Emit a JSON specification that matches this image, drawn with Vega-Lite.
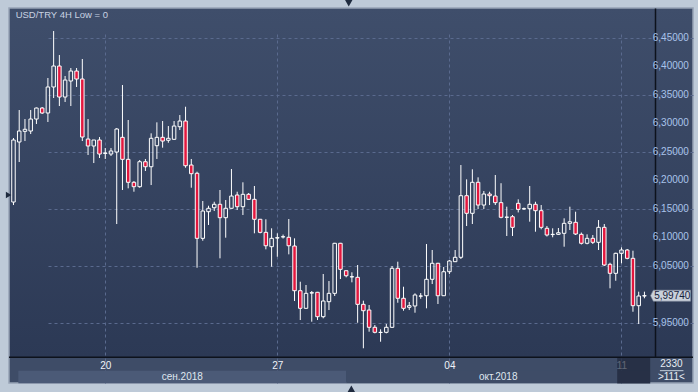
{
"$schema": "https://vega.github.io/schema/vega-lite/v6.json",
"width": 684,
"height": 375,
"autosize": {"type": "none"},
"padding": {"left": 9, "top": 8, "right": 5, "bottom": 9},
"background": "#becad8",
"config": {
  "locale": {"number": {"decimal": ",", "thousands": " ", "grouping": [3], "currency": ["", ""]}},
  "view": {
    "fill": {"gradient": "linear", "x1": 0, "y1": 0, "x2": 0, "y2": 1,
      "stops": [
        {"offset": 0, "color": "#3f4e6b"},
        {"offset": 0.9307, "color": "#2c3955"},
        {"offset": 0.9308, "color": "#3e4c67"},
        {"offset": 1, "color": "#3e4c67"}
      ]},
    "stroke": "#97a3b5",
    "strokeWidth": 1.5
  },
  "font": "Liberation Sans, Arial, sans-serif",
  "text": {"font": "Liberation Sans, Arial, sans-serif", "fontSize": 10},
  "axis": {"gridColor": "#5a6a8e", "gridDash": [3, 3], "gridWidth": 1, "labelFont": "Liberation Sans, Arial, sans-serif", "labelFontSize": 10, "ticks": false, "tickSize": 0}
},
"datasets": {
  "candles": [
    {"k":0,"open":6.1617,"high":6.2740,"low":6.1564,"close":6.2705},
    {"k":1,"open":6.2670,"high":6.3231,"low":6.2319,"close":6.2863},
    {"k":2,"open":6.2857,"high":6.3073,"low":6.2687,"close":6.2893},
    {"k":3,"open":6.2863,"high":6.3231,"low":6.2810,"close":6.3073},
    {"k":4,"open":6.3073,"high":6.3275,"low":6.2986,"close":6.3266},
    {"k":5,"open":6.3266,"high":6.3284,"low":6.3161,"close":6.3179},
    {"k":6,"open":6.3179,"high":6.3793,"low":6.3021,"close":6.3635},
    {"k":7,"open":6.3635,"high":6.4617,"low":6.3442,"close":6.4003},
    {"k":8,"open":6.4003,"high":6.4196,"low":6.3301,"close":6.3459},
    {"k":9,"open":6.3459,"high":6.3828,"low":6.3372,"close":6.3757},
    {"k":10,"open":6.3740,"high":6.3968,"low":6.3301,"close":6.3915},
    {"k":11,"open":6.3915,"high":6.3968,"low":6.3635,"close":6.3775},
    {"k":12,"open":6.3775,"high":6.4126,"low":6.2687,"close":6.2757},
    {"k":13,"open":6.2722,"high":6.3073,"low":6.2442,"close":6.2600},
    {"k":14,"open":6.2600,"high":6.2705,"low":6.2301,"close":6.2705},
    {"k":15,"open":6.2705,"high":6.2757,"low":6.2389,"close":6.2459},
    {"k":16,"open":6.2470,"high":6.2564,"low":6.2372,"close":6.2477},
    {"k":17,"open":6.2459,"high":6.2564,"low":6.2424,"close":6.2512},
    {"k":18,"open":6.2494,"high":6.2915,"low":6.1231,"close":6.2898},
    {"k":19,"open":6.2752,"high":6.3670,"low":6.1828,"close":6.2366},
    {"k":20,"open":6.2366,"high":6.3056,"low":6.1857,"close":6.1963},
    {"k":21,"open":6.1963,"high":6.1985,"low":6.1798,"close":6.1886},
    {"k":22,"open":6.1886,"high":6.2354,"low":6.1868,"close":6.2324},
    {"k":23,"open":6.2324,"high":6.2372,"low":6.2161,"close":6.2236},
    {"k":24,"open":6.2236,"high":6.2822,"low":6.1915,"close":6.2735},
    {"k":25,"open":6.2605,"high":6.3015,"low":6.2372,"close":6.2752},
    {"k":26,"open":6.2752,"high":6.3038,"low":6.2570,"close":6.2687},
    {"k":27,"open":6.2700,"high":6.2950,"low":6.2657,"close":6.2735},
    {"k":28,"open":6.2717,"high":6.3038,"low":6.2710,"close":6.2950},
    {"k":29,"open":6.2938,"high":6.3143,"low":6.2880,"close":6.3038},
    {"k":30,"open":6.3038,"high":6.3289,"low":6.2219,"close":6.2254},
    {"k":31,"open":6.2266,"high":6.2372,"low":6.1868,"close":6.2114},
    {"k":32,"open":6.2121,"high":6.2149,"low":6.0464,"close":6.0980},
    {"k":33,"open":6.0980,"high":6.1635,"low":6.0938,"close":6.1459},
    {"k":34,"open":6.1447,"high":6.1552,"low":6.1214,"close":6.1507},
    {"k":35,"open":6.1517,"high":6.1622,"low":6.1459,"close":6.1577},
    {"k":36,"open":6.1577,"high":6.1828,"low":6.0629,"close":6.1342},
    {"k":37,"open":6.1342,"high":6.1652,"low":6.0991,"close":6.1507},
    {"k":38,"open":6.1507,"high":6.2196,"low":6.1500,"close":6.1722},
    {"k":39,"open":6.1740,"high":6.1798,"low":6.1477,"close":6.1535},
    {"k":40,"open":6.1535,"high":6.1963,"low":6.1389,"close":6.1752},
    {"k":41,"open":6.1752,"high":6.1775,"low":6.1652,"close":6.1664},
    {"k":42,"open":6.1664,"high":6.1898,"low":6.1068,"close":6.1314},
    {"k":43,"open":6.1314,"high":6.1320,"low":6.1068,"close":6.1085},
    {"k":44,"open":6.1085,"high":6.1314,"low":6.0787,"close":6.0850},
    {"k":45,"open":6.0833,"high":6.1156,"low":6.0482,"close":6.0980},
    {"k":46,"open":6.0985,"high":6.1068,"low":6.0657,"close":6.0991},
    {"k":47,"open":6.1005,"high":6.1046,"low":6.0977,"close":6.1008},
    {"k":48,"open":6.0998,"high":6.1319,"low":6.0699,"close":6.0850},
    {"k":49,"open":6.0845,"high":6.0980,"low":5.9880,"close":6.0061},
    {"k":50,"open":6.0061,"high":6.0219,"low":5.9547,"close":5.9752},
    {"k":51,"open":5.9752,"high":6.0161,"low":5.9745,"close":6.0015},
    {"k":52,"open":6.0020,"high":6.0056,"low":5.9517,"close":6.0026},
    {"k":53,"open":6.0033,"high":6.0040,"low":5.9547,"close":5.9605},
    {"k":54,"open":5.9605,"high":6.0354,"low":5.9577,"close":5.9880},
    {"k":55,"open":5.9868,"high":6.0231,"low":5.9722,"close":6.0015},
    {"k":56,"open":6.0015,"high":6.0900,"low":5.9968,"close":6.0893},
    {"k":57,"open":6.0893,"high":6.0900,"low":6.0266,"close":6.0436},
    {"k":58,"open":6.0412,"high":6.0415,"low":6.0296,"close":6.0324},
    {"k":59,"open":6.0303,"high":6.0384,"low":6.0208,"close":6.0307},
    {"k":60,"open":6.0296,"high":6.0512,"low":5.9499,"close":5.9822},
    {"k":61,"open":5.9822,"high":5.9886,"low":5.9051,"close":5.9710},
    {"k":62,"open":5.9722,"high":5.9810,"low":5.9342,"close":5.9419},
    {"k":63,"open":5.9419,"high":5.9459,"low":5.9313,"close":5.9331},
    {"k":64,"open":5.9328,"high":5.9384,"low":5.9166,"close":5.9331},
    {"k":65,"open":5.9331,"high":5.9477,"low":5.9313,"close":5.9419},
    {"k":66,"open":5.9419,"high":6.0494,"low":5.9407,"close":6.0454},
    {"k":67,"open":6.0454,"high":6.0570,"low":5.9850,"close":5.9928},
    {"k":68,"open":5.9928,"high":6.0131,"low":5.9710,"close":5.9752},
    {"k":69,"open":5.9770,"high":5.9863,"low":5.9722,"close":5.9798},
    {"k":70,"open":5.9793,"high":6.0015,"low":5.9675,"close":5.9986},
    {"k":71,"open":5.9966,"high":6.0020,"low":5.9920,"close":5.9968},
    {"k":72,"open":5.9973,"high":6.0880,"low":5.9752,"close":6.0261},
    {"k":73,"open":6.0261,"high":6.0775,"low":6.0178,"close":6.0542},
    {"k":74,"open":6.0542,"high":6.0550,"low":5.9828,"close":5.9973},
    {"k":75,"open":5.9973,"high":6.0477,"low":5.9968,"close":6.0394},
    {"k":76,"open":6.0394,"high":6.0600,"low":6.0354,"close":6.0582},
    {"k":77,"open":6.0570,"high":6.0775,"low":6.0565,"close":6.0647},
    {"k":78,"open":6.0647,"high":6.2266,"low":6.0617,"close":6.1728},
    {"k":79,"open":6.1728,"high":6.2015,"low":6.1196,"close":6.1419},
    {"k":80,"open":6.1419,"high":6.2191,"low":6.1231,"close":6.1963},
    {"k":81,"open":6.1963,"high":6.2050,"low":6.1494,"close":6.1564},
    {"k":82,"open":6.1564,"high":6.1810,"low":6.1494,"close":6.1757},
    {"k":83,"open":6.1757,"high":6.1798,"low":6.1564,"close":6.1728},
    {"k":84,"open":6.1722,"high":6.2091,"low":6.1564,"close":6.1606},
    {"k":85,"open":6.1606,"high":6.1947,"low":6.1331,"close":6.1349},
    {"k":86,"open":6.1349,"high":6.1535,"low":6.1021,"close":6.1352},
    {"k":87,"open":6.1359,"high":6.1389,"low":6.1021,"close":6.1173},
    {"k":88,"open":6.1594,"high":6.1664,"low":6.1434,"close":6.1488},
    {"k":89,"open":6.1497,"high":6.1520,"low":6.1480,"close":6.1500},
    {"k":90,"open":6.1500,"high":6.1898,"low":6.1272,"close":6.1577},
    {"k":91,"open":6.1577,"high":6.1622,"low":6.1096,"close":6.1465},
    {"k":92,"open":6.1465,"high":6.1564,"low":6.1138,"close":6.1173},
    {"k":93,"open":6.1156,"high":6.1196,"low":6.1012,"close":6.1038},
    {"k":94,"open":6.1046,"high":6.1156,"low":6.0998,"close":6.1050},
    {"k":95,"open":6.1050,"high":6.1161,"low":6.1038,"close":6.1078},
    {"k":96,"open":6.1068,"high":6.1331,"low":6.0833,"close":6.1243},
    {"k":97,"open":6.1243,"high":6.1535,"low":6.1126,"close":6.1271},
    {"k":98,"open":6.1261,"high":6.1447,"low":6.1038,"close":6.1056},
    {"k":99,"open":6.1050,"high":6.1082,"low":6.0872,"close":6.0893},
    {"k":100,"open":6.0893,"high":6.1050,"low":6.0875,"close":6.0980},
    {"k":101,"open":6.0980,"high":6.1038,"low":6.0880,"close":6.0910},
    {"k":102,"open":6.0910,"high":6.1301,"low":6.0775,"close":6.1173},
    {"k":103,"open":6.1173,"high":6.1231,"low":6.0494,"close":6.0512},
    {"k":104,"open":6.0524,"high":6.0552,"low":6.0103,"close":6.0366},
    {"k":105,"open":6.0366,"high":6.0728,"low":6.0236,"close":6.0717},
    {"k":106,"open":6.0717,"high":6.0822,"low":6.0542,"close":6.0775},
    {"k":107,"open":6.0775,"high":6.0792,"low":6.0612,"close":6.0629},
    {"k":108,"open":6.0629,"high":6.0763,"low":5.9692,"close":5.9798},
    {"k":109,"open":5.9798,"high":6.0044,"low":5.9477,"close":5.9968},
    {"k":110,"open":5.9968,"high":6.0044,"low":5.9928,"close":5.9974}
  ],
  "months": [
    {"month": "сен.2018", "start": 0.85, "end": 58},
    {"month": "окт.2018", "start": 58, "end": 111}
  ],
  "levels": [
    {"level": 5.95}, {"level": 6.0}, {"level": 6.05}, {"level": 6.1}, {"level": 6.15}, {"level": 6.2},
    {"level": 6.25}, {"level": 6.3}, {"level": 6.35}, {"level": 6.4}, {"level": 6.45}
  ]
},
"layer": [
  {
    "data": {"name": "candles"},
    "transform": [
      {"fold": ["open", "close"], "as": ["side", "v"]},
      {"aggregate": [{"op": "max", "field": "v", "as": "top"}, {"op": "min", "field": "v", "as": "bot"}], "groupby": ["k", "high", "low"]}
    ],
    "mark": {"type": "rule", "color": "#ffffff", "strokeWidth": 1, "clip": true},
    "encoding": {
      "x": {"field": "k", "type": "quantitative",
        "scale": {"domain": [0.0903, 110.97], "range": [0, 646], "nice": false, "zero": false},
        "axis": {"orient": "bottom", "offset": -26, "values": [16, 46, 76, 106], "grid": true, "domain": false, "ticks": false, "tickSize": 0, "labelPadding": 8, "labelBaseline": "middle", "labelColor": "#f0f3f8", "labelFlush": false, "labelOverlap": false, "title": null,
          "labelExpr": "datum.value == 16 ? '20' : datum.value == 46 ? '27' : datum.value == 76 ? '04' : datum.value == 106 ? '11' : ''"}},
      "y": {"field": "high", "type": "quantitative",
        "scale": {"domain": [5.8898, 6.5021], "range": [349, 0], "nice": false, "zero": false},
        "axis": {"orient": "right", "offset": -38, "values": [5.95, 6, 6.05, 6.1, 6.15, 6.2, 6.25, 6.3, 6.35, 6.4, 6.45], "grid": true, "domain": true, "domainColor": "#0d121c", "domainWidth": 1.5, "ticks": false, "tickSize": 0, "labels": false, "title": null}},
      "y2": {"field": "top"}
    }
  },
  {
    "data": {"name": "candles"},
    "transform": [
      {"fold": ["open", "close"], "as": ["side", "v"]},
      {"aggregate": [{"op": "max", "field": "v", "as": "top"}, {"op": "min", "field": "v", "as": "bot"}], "groupby": ["k", "high", "low"]}
    ],
    "mark": {"type": "rule", "color": "#ffffff", "strokeWidth": 1, "clip": true},
    "encoding": {
      "x": {"field": "k", "type": "quantitative"},
      "y": {"field": "bot", "type": "quantitative"},
      "y2": {"field": "low"}
    }
  },
  {
    "data": {"name": "candles"},
    "mark": {"type": "bar", "width": 3.5, "stroke": "#ffffff", "strokeWidth": 1, "clip": true},
    "encoding": {
      "x": {"field": "k", "type": "quantitative"},
      "y": {"field": "open", "type": "quantitative"},
      "y2": {"field": "close"},
      "fill": {"condition": {"test": "datum.close < datum.open", "value": "#e3173e"}, "value": "transparent"}
    }
  },
  {
    "data": {"name": "levels"},
    "transform": [{"filter": "abs(datum.level - 6) > 0.001"}],
    "mark": {"type": "text", "align": "left", "baseline": "middle", "color": "#a9c3ea", "fontSize": 10},
    "encoding": {
      "x": {"datum": 111.45, "type": "quantitative"},
      "y": {"field": "level", "type": "quantitative"},
      "text": {"field": "level", "type": "quantitative", "format": ".5f"}
    }
  },
  {
    "data": {"name": "months"},
    "mark": {"type": "rect"},
    "encoding": {
      "x": {"field": "start", "type": "quantitative"},
      "x2": {"field": "end"},
      "y": {"datum": 5.8658, "type": "quantitative"},
      "y2": {"datum": 5.8437},
      "fill": {"condition": {"test": "datum.month == 'сен.2018'", "value": "#4b5a77"}, "value": "#3e4c67"}
    }
  },
  {
    "data": {"name": "months"},
    "transform": [
      {"fold": ["start", "end"], "as": ["edge", "pos"]},
      {"aggregate": [{"op": "mean", "field": "pos", "as": "mid"}], "groupby": ["month"]}
    ],
    "mark": {"type": "text", "align": "center", "baseline": "middle", "color": "#dfe6ef", "fontSize": 10},
    "encoding": {
      "x": {"field": "mid", "type": "quantitative"},
      "y": {"datum": 5.8547, "type": "quantitative"},
      "text": {"field": "month"}
    }
  },
  {
    "data": {"values": [{}]},
    "mark": {"type": "rect", "color": "#1c2436", "opacity": 0.68},
    "encoding": {
      "x": {"datum": 105.25, "type": "quantitative"},
      "x2": {"datum": 111},
      "y": {"datum": 5.8880, "type": "quantitative"},
      "y2": {"datum": 5.8433}
    }
  },
  {
    "data": {"values": [{}]},
    "mark": {"type": "rule", "color": "#0d121c", "strokeWidth": 1.5},
    "encoding": {
      "y": {"datum": 5.8895, "type": "quantitative"}
    }
  },
  {
    "data": {"name": "candles"},
    "transform": [{"filter": "datum.k == 110"}],
    "mark": {"type": "point", "shape": "M -1 0 L -0.86 -0.275 L 1 -0.275 L 1 0.275 L -0.86 0.275 Z", "size": 1600, "filled": true, "fill": "#c9d1db", "stroke": "#7f8b9d", "strokeWidth": 0.6, "opacity": 1},
    "encoding": {
      "x": {"datum": 114.55, "type": "quantitative"},
      "y": {"field": "close", "type": "quantitative"}
    }
  },
  {
    "data": {"name": "candles"},
    "transform": [{"filter": "datum.k == 110"}],
    "mark": {"type": "text", "align": "left", "baseline": "middle", "color": "#16213a", "fontSize": 10},
    "encoding": {
      "x": {"datum": 111.7, "type": "quantitative"},
      "y": {"field": "close", "type": "quantitative"},
      "text": {"field": "close", "type": "quantitative", "format": ".5f"}
    }
  },
  {
    "data": {"values": [{}]},
    "mark": {"type": "text", "align": "left", "baseline": "alphabetic", "color": "#c8d2e2", "fontSize": 9.5, "text": "USD/TRY 4H Low = 0"},
    "encoding": {
      "x": {"datum": 0.38, "type": "quantitative"},
      "y": {"datum": 6.4845, "type": "quantitative"}
    }
  },
  {
    "data": {"values": [{}]},
    "mark": {"type": "text", "align": "center", "baseline": "middle", "color": "#e8edf3", "fontSize": 10, "text": "2330"},
    "encoding": {
      "x": {"datum": 114.7, "type": "quantitative"},
      "y": {"datum": 5.8770, "type": "quantitative"}
    }
  },
  {
    "data": {"values": [{}]},
    "mark": {"type": "text", "align": "center", "baseline": "middle", "color": "#e8edf3", "fontSize": 10, "text": ">111<"},
    "encoding": {
      "x": {"datum": 114.7, "type": "quantitative"},
      "y": {"datum": 5.8542, "type": "quantitative"}
    }
  },
  {
    "data": {"values": [{}]},
    "mark": {"type": "rule", "color": "#c6d0dc", "strokeWidth": 1},
    "encoding": {
      "x": {"datum": 112.7, "type": "quantitative"},
      "x2": {"datum": 116.8},
      "y": {"datum": 5.8658, "type": "quantitative"}
    }
  },
  {
    "data": {"values": [{}]},
    "mark": {"type": "point", "shape": "triangle-right", "size": 40, "filled": true, "color": "#1e2a3e", "opacity": 1},
    "encoding": {
      "x": {"datum": -0.85, "type": "quantitative"},
      "y": {"datum": 6.1740, "type": "quantitative"}
    }
  },
  {
    "data": {"values": [{}]},
    "mark": {"type": "point", "shape": "triangle-down", "size": 80, "filled": true, "color": "#1e2a3e", "opacity": 1},
    "encoding": {
      "x": {"datum": 58.45, "type": "quantitative"},
      "y": {"datum": 6.5117, "type": "quantitative"}
    }
  },
  {
    "data": {"values": [{}]},
    "mark": {"type": "point", "shape": "triangle-up", "size": 80, "filled": true, "color": "#1e2a3e", "opacity": 1},
    "encoding": {
      "x": {"datum": 58.9, "type": "quantitative"},
      "y": {"datum": 5.8328, "type": "quantitative"}
    }
  }
]
}
